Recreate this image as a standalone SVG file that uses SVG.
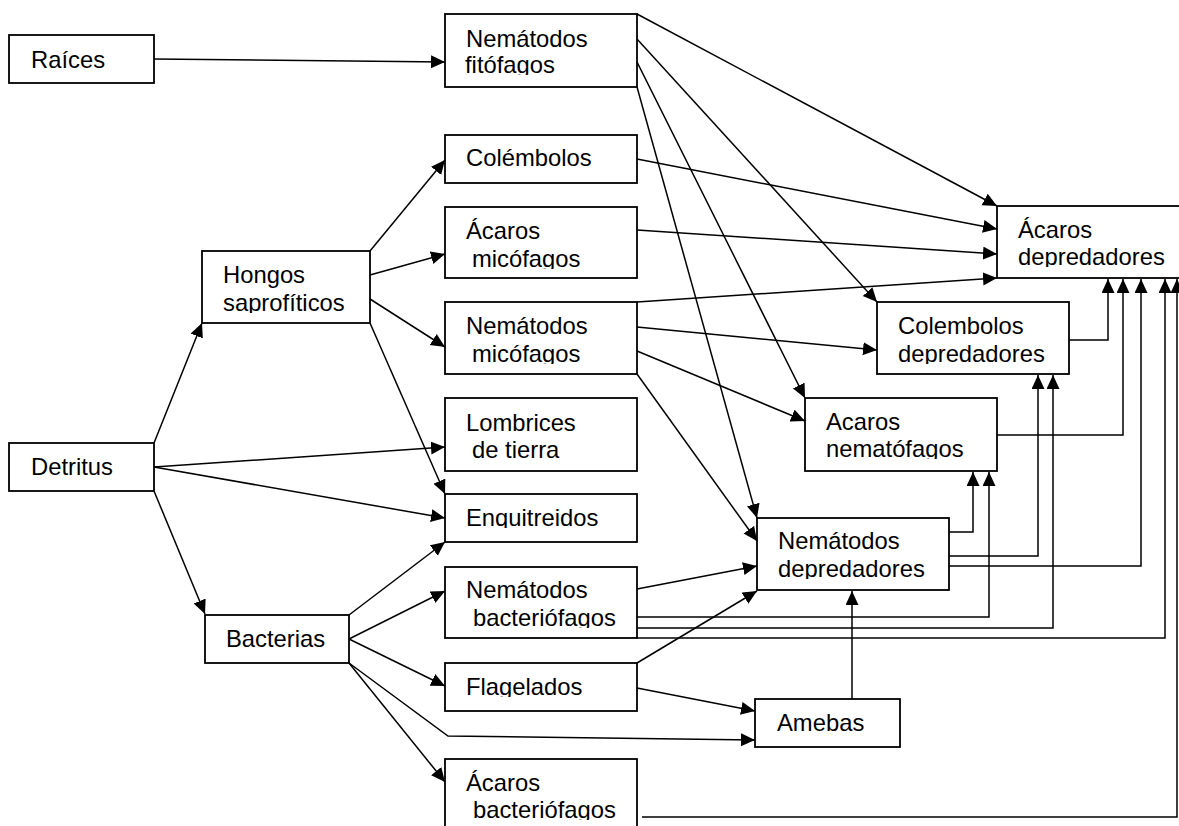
<svg xmlns="http://www.w3.org/2000/svg" width="1179" height="826" viewBox="0 0 1179 826">
<style>
.box{fill:#fff;stroke:#000;stroke-width:1.8}
.t{font-family:"Liberation Sans",Arial,sans-serif;font-size:23.8px;fill:#000}
.c{fill:none;stroke:#000;stroke-width:1.5;marker-end:url(#ah)}
</style>
<defs>
<marker id="ah" markerUnits="userSpaceOnUse" markerWidth="15" markerHeight="14" refX="14" refY="6.5" orient="auto">
<path d="M0,0 L14,6.5 L0,13 z" fill="#000"/>
</marker>
<clipPath id="k_fit"><rect x="445" y="14" width="192" height="61"/></clipPath>
<clipPath id="k_amic"><rect x="445" y="207" width="192" height="62"/></clipPath>
<clipPath id="k_hon"><rect x="202" y="251" width="168" height="62"/></clipPath>
<clipPath id="k_nmic"><rect x="445" y="302" width="192" height="62"/></clipPath>
<clipPath id="k_lom"><rect x="445" y="398" width="192" height="62"/></clipPath>
<clipPath id="k_enq"><rect x="445" y="494" width="192" height="34"/></clipPath>
<clipPath id="k_nbac"><rect x="445" y="567" width="192" height="61"/></clipPath>
<clipPath id="k_fla"><rect x="445" y="663" width="192" height="34"/></clipPath>
<clipPath id="k_abac"><rect x="445" y="759" width="192" height="61"/></clipPath>
<clipPath id="k_ndep"><rect x="757" y="518" width="192" height="61"/></clipPath>
<clipPath id="k_anem"><rect x="805" y="398" width="192" height="61"/></clipPath>
<clipPath id="k_cdep"><rect x="877" y="302" width="192" height="62"/></clipPath>
<clipPath id="k_adep"><rect x="997" y="206" width="190" height="61"/></clipPath>
</defs>

<g id="raices"><rect class="box" x="9" y="35" width="145" height="48"/><text class="t" x="31" y="68">Raíces</text></g>
<g id="nematodos-fitofagos"><rect class="box" x="445" y="14" width="192" height="73"/><text class="t" clip-path="url(#k_fit)"><tspan x="466" y="47">Nemátodos</tspan><tspan x="465" y="73">fitófagos</tspan></text></g>
<g id="colembolos"><rect class="box" x="445" y="135" width="192" height="48"/><text class="t" x="466" y="166">Colémbolos</text></g>
<g id="acaros-micofagos"><rect class="box" x="445" y="207" width="192" height="71"/><text class="t" clip-path="url(#k_amic)"><tspan x="466" y="239">Ácaros</tspan><tspan x="472" y="267">micófagos</tspan></text></g>
<g id="hongos"><rect class="box" x="202" y="251" width="168" height="72"/><text class="t" clip-path="url(#k_hon)"><tspan x="223" y="283">Hongos</tspan><tspan x="223" y="311">saprofíticos</tspan></text></g>
<g id="detritus"><rect class="box" x="9" y="443" width="145" height="48"/><text class="t" x="31" y="475">Detritus</text></g>
<g id="nematodos-micofagos"><rect class="box" x="445" y="302" width="192" height="72"/><text class="t" clip-path="url(#k_nmic)"><tspan x="466" y="334">Nemátodos</tspan><tspan x="472" y="362">micófagos</tspan></text></g>
<g id="lombrices"><rect class="box" x="445" y="398" width="192" height="73"/><text class="t" clip-path="url(#k_lom)"><tspan x="466" y="431">Lombrices</tspan><tspan x="472" y="458">de tierra</tspan></text></g>
<g id="enquitreidos"><rect class="box" x="445" y="494" width="192" height="48"/><text class="t" x="466" y="526" clip-path="url(#k_enq)">Enquitreidos</text></g>
<g id="nematodos-bacteriofagos"><rect class="box" x="445" y="567" width="192" height="71"/><text class="t" clip-path="url(#k_nbac)"><tspan x="466" y="598">Nemátodos</tspan><tspan x="473" y="626">bacteriófagos</tspan></text></g>
<g id="bacterias"><rect class="box" x="205" y="615" width="144" height="48"/><text class="t" x="226" y="647">Bacterias</text></g>
<g id="flagelados"><rect class="box" x="445" y="663" width="192" height="48"/><text class="t" x="466" y="695" clip-path="url(#k_fla)">Flagelados</text></g>
<g id="acaros-bacteriofagos"><rect class="box" x="445" y="759" width="192" height="75"/><text class="t" clip-path="url(#k_abac)"><tspan x="466" y="791">Ácaros</tspan><tspan x="473" y="818">bacteriófagos</tspan></text></g>
<g id="amebas"><rect class="box" x="755" y="699" width="145" height="48"/><text class="t" x="777" y="731">Amebas</text></g>
<g id="nematodos-depredadores"><rect class="box" x="757" y="518" width="192" height="72"/><text class="t" clip-path="url(#k_ndep)"><tspan x="778" y="549">Nemátodos</tspan><tspan x="778" y="577">depredadores</tspan></text></g>
<g id="acaros-nematofagos"><rect class="box" x="805" y="398" width="192" height="73"/><text class="t" clip-path="url(#k_anem)"><tspan x="826" y="430">Acaros</tspan><tspan x="826" y="457">nematófagos</tspan></text></g>
<g id="colembolos-depredadores"><rect class="box" x="877" y="302" width="192" height="72"/><text class="t" clip-path="url(#k_cdep)"><tspan x="898" y="334">Colembolos</tspan><tspan x="898" y="362">depredadores</tspan></text></g>
<g id="acaros-depredadores"><rect class="box" x="997" y="206" width="190" height="72"/><text class="t" clip-path="url(#k_adep)"><tspan x="1018" y="238">Ácaros</tspan><tspan x="1018" y="265">depredadores</tspan></text></g>

<g id="connectors">
<path class="c" d="M154,59 L445,62"/>
<path class="c" d="M637,14 L997,206"/>
<path class="c" d="M637,39 L877,302"/>
<path class="c" d="M637,62 L805,398"/>
<path class="c" d="M637,87 L757,518"/>
<path class="c" d="M637,159 L997,229"/>
<path class="c" d="M637,230 L997,254"/>
<path class="c" d="M637,302 L997,278"/>
<path class="c" d="M637,327 L877,350"/>
<path class="c" d="M637,351 L805,421"/>
<path class="c" d="M637,374 L757,541"/>
<path class="c" d="M370,251 L445,160"/>
<path class="c" d="M370,275 L445,254"/>
<path class="c" d="M370,299 L445,347"/>
<path class="c" d="M370,323 L445,494"/>
<path class="c" d="M154,443 L202,323"/>
<path class="c" d="M154,467 L445,447"/>
<path class="c" d="M154,467 L445,518"/>
<path class="c" d="M154,491 L205,614"/>
<path class="c" d="M349,615 L445,542"/>
<path class="c" d="M349,639 L445,591"/>
<path class="c" d="M349,639 L445,686"/>
<path class="c" d="M349,663 L448,736 L755,740"/>
<path class="c" d="M349,663 L445,782"/>
<path class="c" d="M637,589 L757,566"/>
<path class="c" d="M637,663 L757,591"/>
<path class="c" d="M637,688 L755,711"/>
<path class="c" d="M852,699 L852,591"/>
<path class="c" d="M1069,340 H1108 V279"/>
<path class="c" d="M997,435 H1123 V279"/>
<path class="c" d="M949,532 H973 V472"/>
<path class="c" d="M949,556 H1038 V375"/>
<path class="c" d="M949,566 H1141 V279"/>
<path class="c" d="M637,617 H989 V472"/>
<path class="c" d="M637,628 H1053 V375"/>
<path class="c" d="M637,638 H1165 V279"/>
<path class="c" d="M642,817 H1177 V279"/>
</g>
</svg>
